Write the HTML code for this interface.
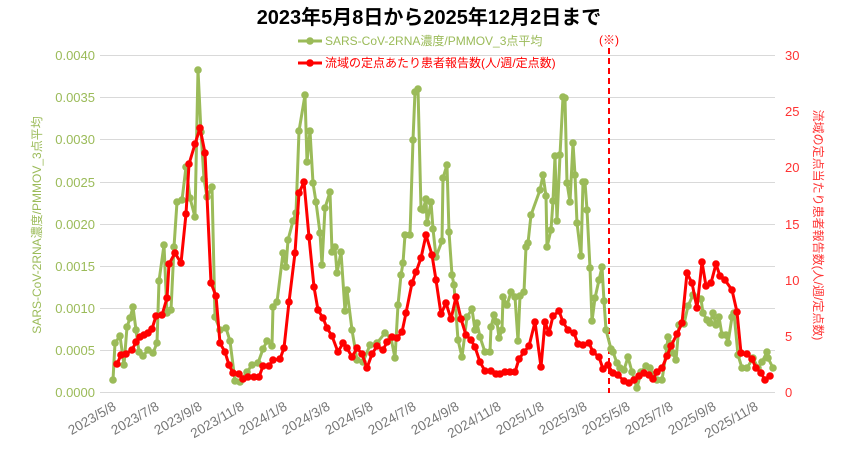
<!DOCTYPE html>
<html><head><meta charset="utf-8"><style>
body{margin:0;background:#fff}
svg{display:block;font-family:"Liberation Sans","Noto Sans CJK JP",sans-serif}
</style></head><body>
<svg width="858" height="449" viewBox="0 0 858 449">
<defs>
<marker id="mg" markerUnits="userSpaceOnUse" markerWidth="10" markerHeight="10" refX="5" refY="5"><circle cx="5" cy="5" r="3.8" fill="#9bbb59"/></marker>
<marker id="mr" markerUnits="userSpaceOnUse" markerWidth="10" markerHeight="10" refX="5" refY="5"><circle cx="5" cy="5" r="3.8" fill="#ff0000"/></marker>
</defs>
<rect width="858" height="449" fill="#fff"/>
<g stroke="#d9d9d9" stroke-width="1">
<line x1="100" y1="55.5" x2="775" y2="55.5"/><line x1="100" y1="97.5" x2="775" y2="97.5"/><line x1="100" y1="139.5" x2="775" y2="139.5"/><line x1="100" y1="182.5" x2="775" y2="182.5"/><line x1="100" y1="224.5" x2="775" y2="224.5"/><line x1="100" y1="266.5" x2="775" y2="266.5"/><line x1="100" y1="308.5" x2="775" y2="308.5"/><line x1="100" y1="350.5" x2="775" y2="350.5"/><line x1="100" y1="392.5" x2="775" y2="392.5"/>
</g>
<text x="429" y="24" text-anchor="middle" font-size="20" font-weight="bold" fill="#000">2023年5月8日から2025年12月2日まで</text>
<g font-size="13" fill="#9bbb59" text-anchor="end">
<text x="95" y="60">0.0040</text><text x="95" y="102">0.0035</text><text x="95" y="144">0.0030</text><text x="95" y="187">0.0025</text><text x="95" y="229">0.0020</text><text x="95" y="271">0.0015</text><text x="95" y="313">0.0010</text><text x="95" y="355">0.0005</text><text x="95" y="397">0.0000</text>
</g>
<g font-size="13" fill="#ff3333">
<text x="785" y="60">30</text><text x="785" y="116">25</text><text x="785" y="172">20</text><text x="785" y="229">15</text><text x="785" y="285">10</text><text x="785" y="341">5</text><text x="785" y="397">0</text>
</g>
<text transform="translate(41,225) rotate(-90)" text-anchor="middle" font-size="12" fill="#9bbb59">SARS-CoV-2RNA濃度/PMMOV_3点平均</text>
<text transform="translate(814,225) rotate(90)" text-anchor="middle" font-size="12" fill="#ff3333">流域の定点当たり患者報告数(人/週/定点数)</text>
<g font-size="13.5" fill="#777" text-anchor="end">
<text transform="translate(117,409) rotate(-30)">2023/5/8</text>
<text transform="translate(160,409) rotate(-30)">2023/7/8</text>
<text transform="translate(203,409) rotate(-30)">2023/9/8</text>
<text transform="translate(245,409) rotate(-30)">2023/11/8</text>
<text transform="translate(288,409) rotate(-30)">2024/1/8</text>
<text transform="translate(331,409) rotate(-30)">2024/3/8</text>
<text transform="translate(374,409) rotate(-30)">2024/5/8</text>
<text transform="translate(417,409) rotate(-30)">2024/7/8</text>
<text transform="translate(460,409) rotate(-30)">2024/9/8</text>
<text transform="translate(502,409) rotate(-30)">2024/11/8</text>
<text transform="translate(545,409) rotate(-30)">2025/1/8</text>
<text transform="translate(588,409) rotate(-30)">2025/3/8</text>
<text transform="translate(631,409) rotate(-30)">2025/5/8</text>
<text transform="translate(674,409) rotate(-30)">2025/7/8</text>
<text transform="translate(717,409) rotate(-30)">2025/9/8</text>
<text transform="translate(759,409) rotate(-30)">2025/11/8</text>
</g>
<line x1="609" y1="48" x2="609" y2="393" stroke="#ff0000" stroke-width="2" stroke-dasharray="6,4"/>
<text x="609" y="44" text-anchor="middle" font-size="12" fill="#ff0000">(※)</text>
<polyline fill="none" stroke="#9bbb59" stroke-width="3" stroke-linejoin="round" marker-start="url(#mg)" marker-mid="url(#mg)" marker-end="url(#mg)" points="113,380 115,343 120,336 124,365 127,327 130,318 133,307 136,330 139,352 143,356 148,350 153,353 157,343 159,281 164,245 167,313 171,310 174,247 177,202 182,200 186,167 190,198 195,217 198,70 201,132 204,179 207,197 212,187 215,317 220,330 226,328 230,341 235,381 240,382 247,372 252,365 258,363 263,349 267,341 272,346 273,307 277,302 283,253 286,267 288,240 293,221 296,213 299,131 305,95 307,162 310,131 313,183 316,202 320,233 322,265 325,208 330,192 332,252 335,247 337,273 341,252 345,311 347,290 352,330 357,360 363,362 370,345 377,343 385,333 391,338 395,358 398,305 401,275 403,263 405,235 410,235 413,140 415,92 418,89 421,209 423,210 426,199 427,223 431,202 433,229 436,257 442,241 443,178 447,165 449,232 452,275 454,285 458,340 462,357 467,317 472,309 475,330 477,323 480,337 485,352 490,352 491,327 494,315 497,322 499,338 502,330 503,297 507,305 511,292 515,297 518,341 520,296 524,292 526,247 528,243 531,215 540,190 543,175 546,196 547,247 551,230 553,201 555,156 557,221 560,155 563,97 565,98 567,183 570,202 573,143 575,175 577,223 581,256 583,182 585,182 587,210 590,268 592,321 595,298 599,280 602,267 604,301 606,330 611,349 613,352 617,363 620,368 624,370 628,357 632,372 637,388 641,372 646,366 650,368 653,375 657,380 662,380 667,347 668,337 671,344 673,353 676,360 679,325 684,324 688,306 693,295 697,298 701,299 703,313 707,320 710,323 713,313 716,325 719,317 722,335 726,335 728,343 732,317 734,313 738,355 742,368 747,368 753,358 758,368 762,362 767,352 768,358 773,368"/>
<polyline fill="none" stroke="#ff0000" stroke-width="3" stroke-linejoin="round" marker-start="url(#mr)" marker-mid="url(#mr)" marker-end="url(#mr)" points="117,364 121,355 126,354 132,350 136,342 140,337 144,335 148,333 152,329 156,316 162,315 167,298 169,264 175,253 181,263 186,214 189,164 195,144 200,128 205,153 211,283 216,296 220,343 225,352 229,365 233,373 239,374 243,379 248,377 254,377 259,377 263,366 269,366 273,360 280,359 284,348 289,302 295,253 299,193 304,182 309,237 314,287 318,310 323,318 327,328 332,336 338,352 343,343 347,348 352,357 357,348 362,354 367,368 372,354 377,346 383,350 387,342 392,337 397,338 402,332 406,313 412,283 416,272 421,258 426,235 432,255 436,280 441,314 446,303 451,319 456,297 461,319 466,335 471,340 475,347 480,362 485,371 491,371 496,374 500,374 505,372 510,372 515,372 519,359 524,352 529,346 535,322 541,367 545,322 549,333 553,316 559,311 563,322 568,330 574,333 578,344 583,345 589,343 593,352 599,357 603,369 608,365 613,373 618,375 624,381 629,383 634,380 639,376 644,373 649,375 653,379 657,372 662,368 667,356 671,346 677,334 682,323 687,273 692,283 697,308 702,262 706,286 711,283 716,264 720,276 725,280 732,290 737,312 741,353 747,354 752,359 756,368 761,373 765,380 770,376"/>
<line x1="298" y1="41" x2="322" y2="41" stroke="#9bbb59" stroke-width="3"/><circle cx="310" cy="41" r="3.8" fill="#9bbb59"/>
<text x="325" y="45" font-size="12" fill="#9bbb59">SARS-CoV-2RNA濃度/PMMOV_3点平均</text>
<line x1="298" y1="63" x2="322" y2="63" stroke="#ff0000" stroke-width="3"/><circle cx="310" cy="63" r="3.8" fill="#ff0000"/>
<text x="325" y="67" font-size="12" fill="#ff0000">流域の定点あたり患者報告数(人/週/定点数)</text>
</svg>
</body></html>
